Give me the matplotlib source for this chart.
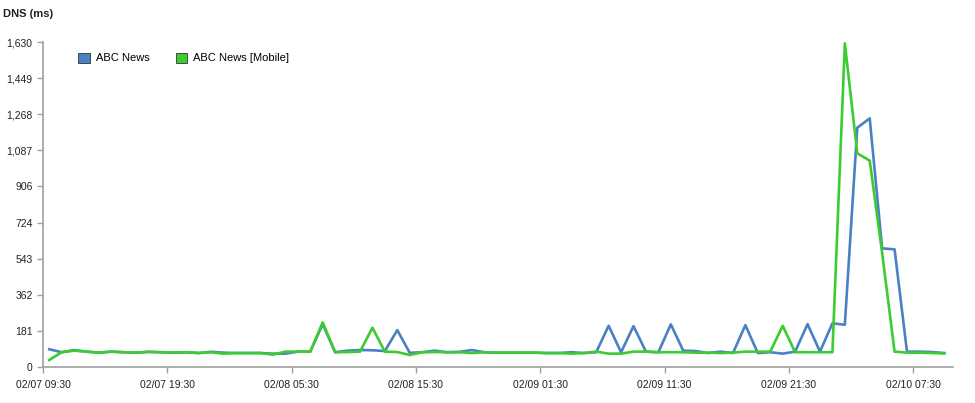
import matplotlib
matplotlib.use("Agg")
import matplotlib.pyplot as plt
import matplotlib.dates as mdates
from matplotlib.ticker import FixedLocator, FuncFormatter
import pandas as pd


# hourly samples, 02/07 10:00 -> 02/10 10:00
times = pd.date_range("2014-02-07 10:00", periods=73, freq="h")

abc_news = [
    89, 74, 85, 77, 72, 77, 74, 72, 76, 74,
    72, 74, 70, 76, 72, 70, 70, 70, 67, 67,
    77, 77, 215, 74, 82, 85, 84, 80, 185, 71,
    74, 82, 74, 76, 85, 74, 72, 72, 72, 72,
    70, 70, 74, 70, 74, 207, 74, 205, 77, 74,
    214, 82, 80, 70, 77, 70, 210, 70, 74, 67,
    77, 215, 77, 219, 212, 1200, 1247, 595, 590, 77,
    77, 75, 70,
]

abc_news_mobile = [
    35, 74, 82, 77, 72, 77, 74, 72, 76, 74,
    72, 74, 70, 74, 67, 70, 70, 70, 62, 77,
    77, 77, 224, 74, 75, 77, 197, 77, 75, 60,
    74, 75, 74, 74, 70, 74, 72, 72, 72, 72,
    70, 70, 67, 70, 77, 67, 67, 77, 77, 74,
    74, 74, 72, 72, 70, 72, 77, 77, 77, 207,
    74, 74, 74, 74, 1623, 1072, 1035, 572, 77, 72,
    72, 70, 68,
]

y_max = 1630
y_ticks = [y_max * i / 9 for i in range(10)]
x_start = pd.Timestamp("2014-02-07 09:30")
x_ticks = pd.date_range(x_start, periods=8, freq="10h")

BLUE = "#4a80c4"
GREEN = "#3bcc30"
AXIS = "#a0a0a0"

plt.rcParams["font.family"] = ["Liberation Sans", "DejaVu Sans"]

fig = plt.figure(figsize=(9.75, 4.03), dpi=100)
ax = fig.add_axes([43 / 975, 36 / 403, 910 / 975, 325 / 403])

ax.plot(times, abc_news, color=BLUE, linewidth=1.9, label="ABC News")
ax.plot(times, abc_news_mobile, color=GREEN, linewidth=1.9, label="ABC News [Mobile]")

ax.set_ylim(0, y_max)
ax.set_xlim(x_start, x_start + pd.Timedelta(hours=73.2))
ax.yaxis.set_major_locator(FixedLocator(y_ticks))
ax.yaxis.set_major_formatter(FuncFormatter(lambda v, _: f"{round(v):,}"))
ax.xaxis.set_major_locator(FixedLocator(mdates.date2num(x_ticks)))
ax.xaxis.set_major_formatter(mdates.DateFormatter("%m/%d %H:%M"))

for side in ("top", "right"):
    ax.spines[side].set_visible(False)
for side in ("left", "bottom"):
    ax.spines[side].set_color(AXIS)
    ax.spines[side].set_linewidth(1.2)
ax.tick_params(axis="both", colors=AXIS, labelcolor="#222222", labelsize=7.5,
               length=4, width=1)
ax.tick_params(axis="x", pad=5)

ax.legend(loc="upper left", bbox_to_anchor=(0.028, 0.998), ncol=2, frameon=False,
          fontsize=8, handlelength=1.0, handleheight=1.0, columnspacing=2.4,
          handletextpad=0.55,
          handles=[plt.Rectangle((0, 0), 1, 1, facecolor=BLUE, edgecolor="#333333", linewidth=0.6),
                   plt.Rectangle((0, 0), 1, 1, facecolor=GREEN, edgecolor="#333333", linewidth=0.6)],
          labels=["ABC News", "ABC News [Mobile]"])

fig.text(3 / 975, 1 - 14 / 403, "DNS (ms)", fontsize=8, fontweight="bold",
         va="center", ha="left", color="#222222")

fig.savefig("out.png", dpi=100)
